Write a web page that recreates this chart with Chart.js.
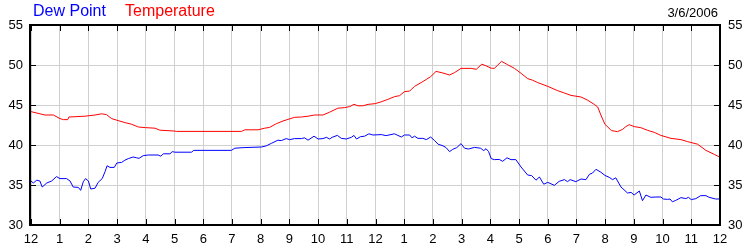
<!DOCTYPE html>
<html>
<head>
<meta charset="utf-8">
<script src="https://cdn.jsdelivr.net/npm/chart.js@4"></script>
<style>
  body { margin: 0; background: #fff; }
  #wrap { position: relative; width: 750px; height: 250px; }
  .hdr { position: absolute; font-family: "Liberation Sans", Arial, sans-serif; white-space: nowrap; }
</style>
</head>
<body>
<div id="wrap">
  <canvas id="wx-chart"></canvas>
  <span class="hdr" style="left:33px; top:2px; font-size:16px; color:#0000ff;">Dew Point</span>
  <span class="hdr" style="left:125px; top:2px; font-size:16px; color:#ff0000;">Temperature</span>
  <span class="hdr" style="right:32px; top:5px; font-size:13px; color:#000;">3/6/2006</span>
</div>
<script>
// hour of day (0 = midnight) and reading
const hourLabels = ["12", "1", "2", "3", "4", "5", "6", "7", "8", "9", "10", "11", "12", "1", "2", "3", "4", "5", "6", "7", "8", "9", "10", "11", "12"];

const tempHours = [0.00, 0.31, 0.49, 0.78, 1.01, 1.13, 1.28, 1.32, 1.88, 2.23, 2.46, 2.63, 2.81, 2.99, 3.27, 3.50, 3.74, 3.99, 4.32, 4.49, 4.99, 5.07, 7.33, 7.45, 7.91,
  8.14, 8.31, 8.55, 8.78, 8.95, 9.18, 9.42, 9.65, 9.88, 10.17, 10.40, 10.69, 10.92, 11.10, 11.25, 11.39, 11.56, 11.74, 11.99, 12.20, 12.43, 12.66, 12.84, 13.01, 13.19, 13.36, 13.59, 13.77, 13.92,
  14.11, 14.35, 14.58, 14.75, 14.98, 15.33, 15.51, 15.70, 15.85, 16.03, 16.14, 16.26, 16.39, 16.60, 16.84, 17.07, 17.30, 17.47, 17.65, 18.00, 18.34, 18.58, 18.81, 19.16, 19.39, 19.62, 19.74, 19.85, 19.99,
  20.22, 20.43, 20.61, 20.72, 20.84, 21.01, 21.24, 21.48, 21.71, 21.94, 22.29, 22.64, 22.87, 23.22, 23.51, 23.80, 23.99];
const tempValues = [44.17, 43.9, 43.75, 43.75, 43.3, 43.17, 43.17, 43.5, 43.6, 43.75, 43.9, 43.8, 43.3, 43.1, 42.8, 42.6, 42.25, 42.17, 42.1, 41.85, 41.75, 41.7, 41.7, 41.9, 41.9,
  42.1, 42.2, 42.67, 43.0, 43.2, 43.46, 43.5, 43.6, 43.75, 43.75, 44.1, 44.6, 44.67, 44.8, 45.08, 44.9, 44.9, 45.08, 45.17, 45.4, 45.7, 46.04, 46.17, 46.67, 46.75, 47.33, 47.8, 48.2, 48.54,
  49.2, 49.0, 48.75, 49.04, 49.58, 49.58, 49.46, 50.1, 49.9, 49.6, 49.58, 50.0, 50.46, 50.04, 49.58, 48.96, 48.3, 48.1, 47.8, 47.33, 46.8, 46.5, 46.2, 46.0, 45.6, 45.08, 44.75, 43.75, 42.6,
  41.8, 41.67, 41.96, 42.3, 42.54, 42.3, 42.17, 41.83, 41.58, 41.2, 40.83, 40.67, 40.42, 40.1, 39.33, 38.83, 38.5];

const dewHours = [0.00, 0.08, 0.20, 0.31, 0.39, 0.55, 0.72, 0.89, 1.01, 1.24, 1.36, 1.47, 1.65, 1.73, 1.82, 1.90, 2.00, 2.08, 2.23, 2.34, 2.48, 2.58, 2.65, 2.75, 2.90, 2.99,
  3.16, 3.27, 3.39, 3.56, 3.68, 3.76, 3.91, 4.08, 4.43, 4.52, 4.61, 4.84, 4.92, 5.01, 5.59, 5.67, 6.98, 7.10, 7.39, 8.03,
  8.20, 8.37, 8.60, 8.72, 8.89, 9.01, 9.18, 9.42, 9.53, 9.65, 9.86, 10.00, 10.17, 10.29, 10.40, 10.49, 10.67, 10.81, 10.98, 11.16, 11.25, 11.34, 11.48, 11.62, 11.77, 11.91,
  12.20, 12.37, 12.66, 12.90, 13.01, 13.19, 13.27, 13.36, 13.48, 13.65, 13.77, 13.92, 14.06, 14.18, 14.35, 14.46, 14.58, 14.69, 14.83, 14.98, 15.10, 15.24, 15.45, 15.66, 15.77, 15.85, 15.94, 16.03,
  16.14, 16.31, 16.43, 16.58, 16.72, 16.89, 17.07, 17.30, 17.44, 17.59, 17.71, 17.86, 18.00, 18.23, 18.40, 18.58, 18.69, 18.78, 18.98, 19.16, 19.33, 19.45, 19.56, 19.68, 19.85, 19.99,
  20.14, 20.26, 20.37, 20.55, 20.78, 20.90, 21.01, 21.19, 21.30, 21.42, 21.59, 21.77, 21.94, 22.03, 22.17, 22.26, 22.34, 22.46, 22.64, 22.81, 22.90, 23.00, 23.16, 23.33, 23.51, 23.62, 23.85, 23.99];
const dewValues = [35.5, 35.25, 35.6, 35.5, 34.75, 35.25, 35.5, 36.05, 35.8, 35.8, 35.5, 34.75, 34.7, 34.33, 35.4, 35.8, 35.5, 34.5, 34.6, 35.33, 35.8, 36.67, 37.4, 37.2, 37.2, 37.75,
  37.83, 38.1, 38.3, 38.5, 38.4, 38.33, 38.67, 38.75, 38.75, 38.6, 38.9, 38.9, 39.17, 39.1, 39.1, 39.33, 39.33, 39.6, 39.67, 39.75,
  39.9, 40.2, 40.6, 40.55, 40.8, 40.67, 40.8, 40.8, 40.9, 40.6, 41.1, 40.75, 40.8, 40.96, 40.75, 40.96, 41.2, 40.83, 40.75, 40.96, 41.2, 40.75, 41.04, 41.1, 41.4, 41.25,
  41.3, 41.17, 41.4, 41.0, 41.25, 41.25, 40.9, 41.1, 40.83, 40.83, 40.67, 41.0, 40.55, 40.1, 39.9, 39.67, 39.17, 39.46, 39.67, 40.17, 39.6, 39.5, 39.7, 39.6, 39.3, 39.54, 39.17, 38.3,
  38.17, 38.2, 37.96, 38.4, 38.17, 38.17, 37.25, 36.25, 36.17, 35.6, 36.0, 35.1, 35.33, 34.96, 35.46, 35.67, 35.42, 35.67, 35.42, 35.75, 35.67, 36.33, 36.5, 36.96, 36.6, 36.2,
  35.96, 35.67, 35.9, 34.75, 34.0, 34.08, 33.75, 34.25, 33.04, 33.75, 33.46, 33.5, 33.5, 33.25, 33.2, 33.25, 32.9, 33.08, 33.42, 33.3, 33.46, 33.17, 33.3, 33.67, 33.67, 33.46, 33.25, 33.25];

const yMin = 30, yMax = 55;

// black frame round the plot (2px) with short 1px ticks pointing inwards
const frameTicks = {
  id: 'frameTicks',
  afterDatasetsDraw(chart) {
    const ctx = chart.ctx, a = chart.chartArea;
    const xs = chart.scales.x, ys = chart.scales.y;
    const l = Math.round(a.left) - 1, r = Math.round(a.right), t = Math.round(a.top), b = Math.round(a.bottom);
    ctx.save();
    ctx.strokeStyle = '#000';
    ctx.lineWidth = 2;
    ctx.strokeRect(l, t, r - l, b - t);
    ctx.lineWidth = 1;
    ctx.beginPath();
    for (let h = 0; h <= 24; h++) {
      const px = Math.round(xs.getPixelForValue(h)) + 0.5;
      ctx.moveTo(px, t); ctx.lineTo(px, t + 6);
      ctx.moveTo(px, b); ctx.lineTo(px, b - 6);
    }
    for (let v = yMin; v <= yMax; v += 5) {
      const py = Math.round(ys.getPixelForValue(v)) + 0.5;
      ctx.moveTo(l, py); ctx.lineTo(l + 6, py);
      ctx.moveTo(r, py); ctx.lineTo(r - 6, py);
    }
    ctx.stroke();
    ctx.restore();
  }
};

const tickFont = { family: '"Liberation Sans", Arial, sans-serif', size: 13 };

new Chart("wx-chart", {
  type: 'line',
  data: {
    datasets: [
      {
        label: "Temperature",
        borderColor: "#ff0000",
        borderWidth: 1,
        pointRadius: 0,
        data: tempHours.map((h, i) => ({ x: h, y: tempValues[i] })),
      },
      {
        label: "Dew Point",
        borderColor: "#0000ff",
        borderWidth: 1,
        pointRadius: 0,
        data: dewHours.map((h, i) => ({ x: h, y: dewValues[i] })),
      },
    ],
  },
  options: {
    responsive: true,
    maintainAspectRatio: false,
    animation: false,
    layout: { padding: { top: 25 } },
    plugins: { legend: { display: false }, tooltip: { enabled: false } },
    scales: {
      x: {
        type: 'linear', min: 0, max: 24,
        afterFit: s => { s.height = 25; },
        border: { display: false },
        grid: { color: '#d0d0d0', drawTicks: false, tickLength: 0 },
        ticks: { stepSize: 1, autoSkip: false, maxRotation: 0, padding: 7, color: '#000', font: tickFont,
          callback: v => hourLabels[v] },
      },
      y: {
        position: 'left', min: yMin, max: yMax,
        afterFit: s => { s.width = 31; },
        border: { display: false },
        grid: { color: '#d0d0d0', drawTicks: false, tickLength: 0 },
        ticks: { stepSize: 5, padding: 8, color: '#000', font: tickFont },
      },
      y2: {
        position: 'right', min: yMin, max: yMax,
        afterFit: s => { s.width = 30; },
        border: { display: false },
        grid: { display: false, drawTicks: false, tickLength: 0 },
        ticks: { stepSize: 5, padding: 8, color: '#000', font: tickFont },
      },
    },
  },
  plugins: [frameTicks],
});
</script>
</body>
</html>
